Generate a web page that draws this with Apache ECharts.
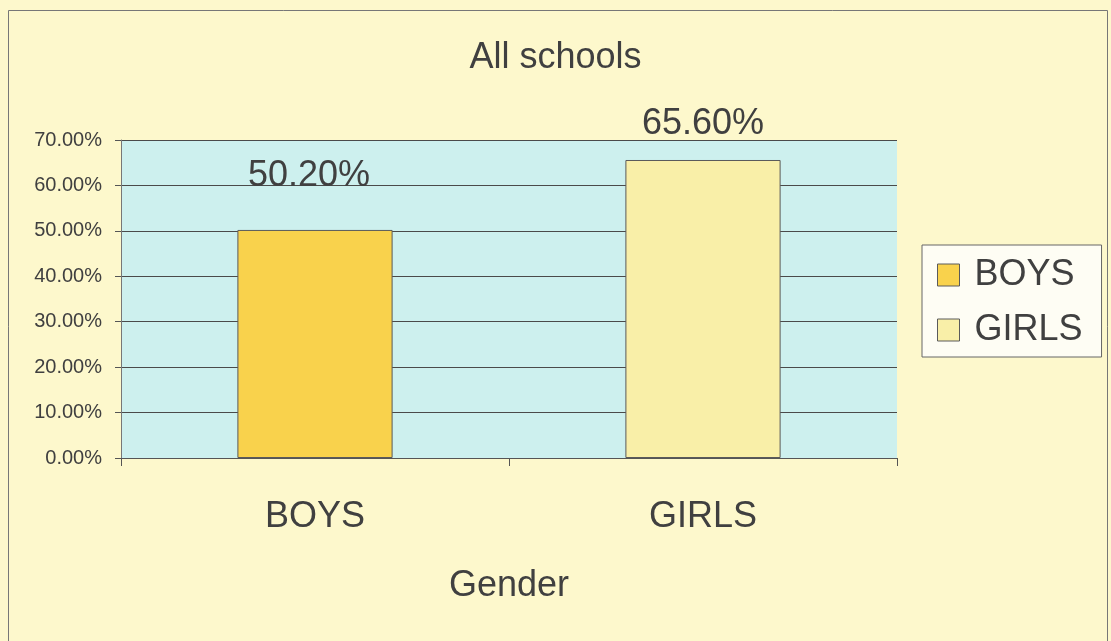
<!DOCTYPE html>
<html>
<head>
<meta charset="utf-8">
<script src="https://cdn.jsdelivr.net/npm/echarts@6/dist/echarts.min.js"></script>
<style>
html,body{margin:0;padding:0;background:#FDF8CC;}
#c{width:1111px;height:641px;}
</style>
</head>
<body>
<div id="c"></div>
<script>
const categories = ['BOYS', 'GIRLS'];
const seriesNames = ['BOYS', 'GIRLS'];
const values = [0.502, 0.656];
const yTicks = [0, 0.1, 0.2, 0.3, 0.4, 0.5, 0.6, 0.7];
const titleText = 'All schools';
const xAxisTitle = 'Gender';

const FONT = '"Liberation Sans", Arial, sans-serif';
const TXT = '#404040';
const colors = ['#F9D24C', '#F9EFA8'];
const labelDist = [36, 18];

const chart = echarts.init(document.getElementById('c'), null, {renderer: 'canvas'});
const pct = v => (v * 100).toFixed(2) + '%';

const series = seriesNames.map((name, i) => ({
  name: name,
  type: 'bar',
  stack: 'one',
  barWidth: '40%',
  data: categories.map((c, j) => (j === i ? values[i] : '-')),
  itemStyle: {color: colors[i], borderColor: '#5a5a5a', borderWidth: 1},
  label: {
    show: true, position: 'top', distance: labelDist[i],
    offset: [i === 0 ? -6 : 0, 0],
    formatter: p => pct(p.value),
    fontFamily: FONT, fontSize: 36, color: TXT
  }
}));

chart.setOption({
  backgroundColor: '#FDF8CC',
  animation: false,
  title: {
    text: titleText, left: 'center', top: 40, padding: 0,
    textStyle: {fontFamily: FONT, fontSize: 36, fontWeight: 'normal', color: TXT}
  },
  legend: {
    orient: 'vertical', left: 922, top: 245,
    data: seriesNames,
    icon: 'rect', itemWidth: 22, itemHeight: 22, itemGap: 13,
    padding: [9, 19, 6, 15],
    backgroundColor: '#FEFDF4', borderColor: '#666', borderWidth: 1,
    textStyle: {fontFamily: FONT, fontSize: 36, color: TXT, lineHeight: 42, padding: [0, 0, 0, 10]},
    itemStyle: {borderColor: '#5a5a5a', borderWidth: 1}
  },
  grid: {
    left: 121, right: 214, top: 140, bottom: 183,
    show: true, backgroundColor: '#CDF0EE', borderWidth: 0
  },
  xAxis: {
    type: 'category', data: categories,
    name: xAxisTitle, nameLocation: 'middle', nameGap: 110,
    nameTextStyle: {fontFamily: FONT, fontSize: 36, color: TXT},
    axisLine: {lineStyle: {color: '#555', width: 1}},
    axisTick: {show: true, length: 8, lineStyle: {color: '#555'}},
    axisLabel: {fontFamily: FONT, fontSize: 36, color: TXT, margin: 41}
  },
  yAxis: {
    type: 'value', min: yTicks[0], max: yTicks[yTicks.length - 1], interval: 0.1,
    axisLine: {show: true, lineStyle: {color: '#777', width: 1}},
    axisTick: {show: true, length: 6, lineStyle: {color: '#555'}},
    axisLabel: {fontFamily: FONT, fontSize: 20, color: TXT, margin: 19, formatter: v => pct(v)},
    splitLine: {show: true, lineStyle: {color: '#4a4a4a', width: 1.2}}
  },
  graphic: [{
    type: 'rect', shape: {x: 8.5, y: 10.5, width: 1099, height: 660},
    style: {fill: null, stroke: '#777', lineWidth: 1}, z: -1, silent: true
  }],
  series: series
});
</script>
</body>
</html>
